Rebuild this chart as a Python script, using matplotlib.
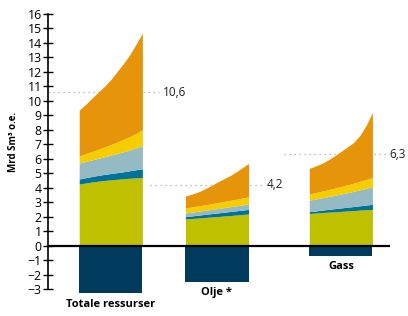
import matplotlib
matplotlib.use('Agg')
import matplotlib.pyplot as plt
import numpy as np

plt.rcParams['font.family'] = ['Open Sans', 'DejaVu Sans']

# groups and read-off values (Mrd Sm3 o.e.)
groups = ['Totale ressurser', 'Olje *', 'Gass']
fracs = [0, 0.1, 0.2, 0.3, 0.4, 0.5, 0.6, 0.7, 0.8, 0.9, 1.0]

# cumulative tops of each layer along the width of each group
green_top = [[4.25, 4.32, 4.39, 4.45, 4.50, 4.54, 4.58, 4.62, 4.65, 4.68, 4.70],
             [1.83, 1.87, 1.90, 1.94, 1.97, 2.00, 2.04, 2.07, 2.11, 2.15, 2.18],
             [2.22, 2.25, 2.28, 2.31, 2.33, 2.36, 2.39, 2.42, 2.45, 2.48, 2.50]]
blue_top = [[4.60, 4.69, 4.77, 4.85, 4.92, 4.98, 5.04, 5.10, 5.17, 5.24, 5.30],
            [2.00, 2.05, 2.10, 2.15, 2.20, 2.25, 2.30, 2.35, 2.40, 2.45, 2.50],
            [2.34, 2.39, 2.45, 2.50, 2.55, 2.60, 2.65, 2.70, 2.75, 2.80, 2.85]]
lblue_top = [[5.70, 5.81, 5.92, 6.03, 6.14, 6.25, 6.36, 6.48, 6.61, 6.75, 6.90],
             [2.25, 2.31, 2.37, 2.43, 2.49, 2.55, 2.61, 2.68, 2.74, 2.81, 2.87],
             [3.14, 3.22, 3.30, 3.39, 3.47, 3.56, 3.65, 3.75, 3.85, 3.95, 4.06]]
yellow_top = [[6.20, 6.35, 6.50, 6.65, 6.81, 6.98, 7.15, 7.33, 7.53, 7.75, 8.00],
              [2.60, 2.67, 2.74, 2.81, 2.88, 2.96, 3.04, 3.12, 3.20, 3.28, 3.37],
              [3.56, 3.66, 3.76, 3.86, 3.97, 4.08, 4.19, 4.31, 4.44, 4.57, 4.71]]
orange_top = [[9.36, 9.75, 10.17, 10.60, 11.00, 11.47, 12.02, 12.58, 13.18, 13.92, 14.67],
              [3.42, 3.55, 3.70, 3.90, 4.12, 4.37, 4.60, 4.82, 5.08, 5.38, 5.68],
              [5.33, 5.50, 5.68, 5.92, 6.20, 6.50, 6.80, 7.12, 7.60, 8.30, 9.20]]
negative = [-3.3, -2.5, -0.7]

marker_vals = [10.6, 4.2, 6.3]
marker_labels = ['10,6', '4,2', '6,3']

c_green = '#BEC000'
c_blue = '#00739B'
c_lblue = '#95BAC3'
c_yellow = '#F6CE00'
c_orange = '#E6950B'
c_navy = '#003A5C'

lefts = [0.9, 3.96, 7.53]
width = 1.82
line_spans = [(0.0, 3.2), (2.95, 6.2), (6.8, 9.75)]

fig = plt.figure(figsize=(4.08, 3.16), dpi=100)
ax = fig.add_axes([0.1176, 0.0671, 0.8505, 0.8978])

# dotted reference lines behind the areas
for (x0, x1), v, lab in zip(line_spans, marker_vals, marker_labels):
    ax.plot([x0, x1], [v, v], color='#aaaaaa', lw=0.9, ls=(0, (1, 3)), zorder=1)
    ax.text(x1 + 0.1, v, lab, va='center', ha='left', fontsize=8.5, color='#222222')

for i in range(len(groups)):
    x = lefts[i] + width * np.array(fracs)
    layers = [np.zeros(len(fracs)), green_top[i], blue_top[i], lblue_top[i],
              yellow_top[i], orange_top[i]]
    cols = [c_green, c_blue, c_lblue, c_yellow, c_orange]
    for k in range(5):
        ax.fill_between(x, layers[k], layers[k + 1], color=cols[k], lw=0, zorder=2)
    ax.bar(lefts[i], negative[i], width=width, align='edge', color=c_navy, zorder=2)
    ax.annotate(groups[i], (lefts[i] + width / 2, negative[i]), xytext=(0, -4),
                textcoords='offset points', ha='center', va='top',
                fontsize=8, fontweight='bold')

ax.plot([0, 9.85], [0, 0], color='black', lw=1.6, zorder=3, solid_capstyle='butt')

ax.set_xlim(0, 10)
ax.set_ylim(-3.4, 16.2)
ax.set_yticks(range(-3, 17))
ax.tick_params(axis='y', direction='inout', length=7, width=1, labelsize=8.8, pad=1)
ax.set_xticks([])
for s in ['top', 'right', 'bottom']:
    ax.spines[s].set_visible(False)
ax.spines['left'].set_bounds(-3, 16)
ax.spines['left'].set_linewidth(1.2)
ax.patch.set_alpha(0)

fig.text(0.032, 0.55, 'Mrd Sm³ o.e.', rotation=90, ha='center', va='center',
         fontsize=7, fontweight='bold')

fig.savefig('out.png', dpi=100)
